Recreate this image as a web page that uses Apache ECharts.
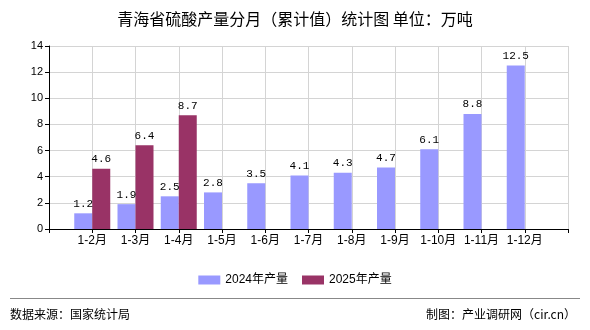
<!DOCTYPE html>
<html>
<head>
<meta charset="utf-8">
<script src="https://cdn.jsdelivr.net/npm/echarts@6/dist/echarts.min.js"></script>
<style>
  html, body { margin: 0; padding: 0; background: #fff; }
  #chart { width: 590px; height: 330px; }
</style>
</head>
<body>
<div id="chart"></div>
<script>
// Monthly cumulative sulfuric acid output, Qinghai (10k tonnes)
var categories = ['1-2月', '1-3月', '1-4月', '1-5月', '1-6月', '1-7月', '1-8月', '1-9月', '1-10月', '1-11月', '1-12月'];
var output2024 = [1.2, 1.9, 2.5, 2.8, 3.5, 4.1, 4.3, 4.7, 6.1, 8.8, 12.5];
var output2025 = [4.6, 6.4, 8.7, null, null, null, null, null, null, null, null];
var seriesNames = ['2024年产量', '2025年产量'];
var yTicks = { min: 0, max: 14, interval: 2 };

// The axis runs edge-to-edge with empty end slots so the bar groups sit on the tick marks
var axisCats = [''].concat(categories, ['']);
function pad(arr) { return [null].concat(arr, [null]); }

var txtFont = 'Liberation Sans, Noto Sans CJK SC, sans-serif';
var numFont = 'Liberation Mono, DejaVu Sans Mono, monospace';

var chart = echarts.init(document.getElementById('chart'), null, { renderer: 'canvas' });
chart.setOption({
  animation: false,
  backgroundColor: '#ffffff',
  title: {
    text: '青海省硫酸产量分月（累计值）统计图 单位：万吨',
    left: 'center',
    top: 6,
    textStyle: { fontSize: 16, fontWeight: 'normal', color: '#000', fontFamily: 'Noto Sans CJK SC, sans-serif' }
  },
  legend: {
    data: seriesNames,
    top: 269,
    left: 'center',
    itemWidth: 22,
    itemHeight: 9,
    itemGap: 14,
    icon: 'rect',
    textStyle: { fontSize: 12, color: '#000', fontFamily: txtFont }
  },
  grid: { left: 49, right: 22, top: 46, bottom: 101, containLabel: false },
  xAxis: {
    type: 'category',
    data: axisCats,
    boundaryGap: false,
    axisLine: { lineStyle: { color: '#000', width: 1 } },
    axisTick: { show: true, length: 4, lineStyle: { color: '#000' }, interval: 0 },
    axisLabel: { interval: 0, color: '#000', fontSize: 12, margin: 6, fontFamily: txtFont },
    splitLine: { show: true, lineStyle: { color: '#d4d4d4', width: 1 } }
  },
  yAxis: {
    type: 'value',
    min: yTicks.min,
    max: yTicks.max,
    interval: yTicks.interval,
    axisLine: { show: true, lineStyle: { color: '#000', width: 1 } },
    axisTick: { show: true, length: 4, lineStyle: { color: '#000' } },
    axisLabel: { color: '#000', fontSize: 11, margin: 6, fontFamily: txtFont },
    splitLine: { show: true, lineStyle: { color: '#d4d4d4', width: 1 } }
  },
  series: [
    {
      name: seriesNames[0],
      type: 'bar',
      data: pad(output2024),
      barWidth: 18,
      barGap: '0%',
      itemStyle: { color: '#9999ff' },
      label: { show: true, position: 'top', distance: 4, color: '#000', fontSize: 11, fontFamily: numFont }
    },
    {
      name: seriesNames[1],
      type: 'bar',
      data: pad(output2025),
      barWidth: 18,
      barGap: '0%',
      itemStyle: { color: '#993366' },
      label: { show: true, position: 'top', distance: 4, color: '#000', fontSize: 11, fontFamily: numFont }
    }
  ],
  graphic: [
    { type: 'line', shape: { x1: 10, y1: 298.5, x2: 580, y2: 298.5 }, style: { stroke: '#888', lineWidth: 1 } },
    { type: 'text', left: 10, top: 308, style: { text: '数据来源：国家统计局', fontSize: 12, fill: '#000', fontFamily: 'Noto Sans CJK SC, sans-serif' } },
    { type: 'text', right: 14, top: 308, style: { text: '制图：产业调研网（cir.cn）', fontSize: 12, fill: '#000', fontFamily: 'Noto Sans CJK SC, sans-serif' } }
  ]
});
</script>
</body>
</html>
